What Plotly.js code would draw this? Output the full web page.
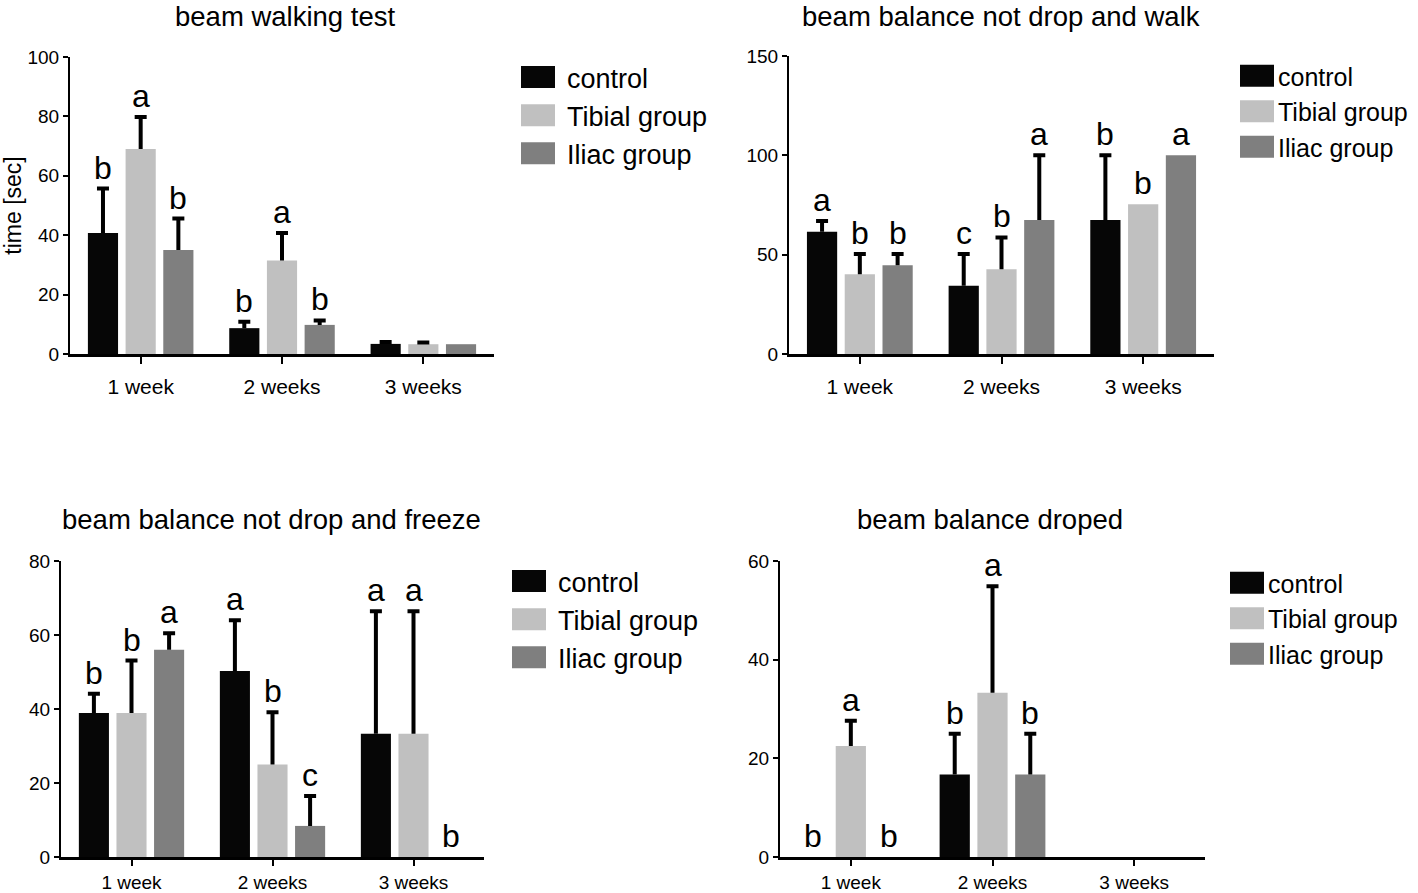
<!DOCTYPE html>
<html>
<head>
<meta charset="utf-8">
<script src="https://cdn.plot.ly/plotly-3.0.1.min.js"></script>
<style>
  html, body { margin: 0; padding: 0; background: #ffffff; }
  #chart { width: 1418px; height: 893px; }
</style>
</head>
<body>
<div id="chart"></div>
<script>
// ---------------- data ----------------
const categories = ['1 week', '2 weeks', '3 weeks'];
const seriesNames = ['control', 'Tibial group', 'Iliac group'];

// Panel 1: beam walking test
const walkControl = [40.7, 8.7, 3.4];
const walkControlErr = [15.0, 2.2, 0.6];
const walkTibial = [69.0, 31.5, 3.3];
const walkTibialErr = [10.8, 9.2, 0.6];
const walkIliac = [35.0, 9.8, 3.3];
const walkIliacErr = [10.6, 1.5, null];
const walkLetters = [['b', 'b', null], ['a', 'a', null], ['b', 'b', null]];

// Panel 2: beam balance not drop and walk
const walkBalControl = [61.5, 34.3, 67.4];
const walkBalControlErr = [5.5, 16.0, 32.6];
const walkBalTibial = [40.2, 42.6, 75.4];
const walkBalTibialErr = [10.1, 16.1, null];
const walkBalIliac = [44.7, 67.4, 100.0];
const walkBalIliacErr = [5.6, 32.6, null];
const walkBalLetters = [['a', 'c', 'b'], ['b', 'b', 'b'], ['b', 'a', 'a']];

// Panel 3: beam balance not drop and freeze
const freezeControl = [38.9, 50.3, 33.3];
const freezeControlErr = [5.2, 13.7, 33.1];
const freezeTibial = [38.9, 25.0, 33.3];
const freezeTibialErr = [14.2, 14.1, 33.1];
const freezeIliac = [56.0, 8.4, 0];
const freezeIliacErr = [4.5, 8.1, null];
const freezeLetters = [['b', 'a', 'a'], ['b', 'b', 'a'], ['a', 'c', 'b']];

// Panel 4: beam balance droped
const dropControl = [0, 16.7, 0];
const dropControlErr = [null, 8.3, null];
const dropTibial = [22.5, 33.3, 0];
const dropTibialErr = [5.1, 21.6, null];
const dropIliac = [0, 16.7, 0];
const dropIliacErr = [null, 8.3, null];
const dropLetters = [['b', 'b', null], ['a', 'a', null], ['b', 'b', null]];

const panelTitles = ['beam walking test', 'beam balance not drop and walk',
                     'beam balance not drop and freeze', 'beam balance droped'];
const yTickVals = [[0, 20, 40, 60, 80, 100], [0, 50, 100, 150], [0, 20, 40, 60, 80], [0, 20, 40, 60]];
const yAxisTitle = 'time [sec]';

// ---------------- styles / layout ----------------
const W = 1418, H = 893;
const FONT = 'Arial, "Liberation Sans", sans-serif';
const colors = ['#060606', '#c0c0c0', '#7f7f7f'];
const BARGAP = 0.2, BARGROUPGAP = 0.2;

// title: [center x, top y] in pixels
const panels = [
  { vals: [walkControl, walkTibial, walkIliac], errs: [walkControlErr, walkTibialErr, walkIliacErr],
    letters: walkLetters, xpx: [70, 494], ypx: [57, 354], title: [285, 0],
    standoff: 5, tickSize: 21, ticklen: 7,
    legend: { left: 509, top: 53, size: 27, itemwidth: 48 } },
  { vals: [walkBalControl, walkBalTibial, walkBalIliac], errs: [walkBalControlErr, walkBalTibialErr, walkBalIliacErr],
    letters: walkBalLetters, xpx: [789, 1214], ypx: [56, 354], title: [1001, 0],
    standoff: 5, tickSize: 21, ticklen: 7,
    legend: { left: 1236, top: 53, size: 25, itemwidth: 32 } },
  { vals: [freezeControl, freezeTibial, freezeIliac], errs: [freezeControlErr, freezeTibialErr, freezeIliacErr],
    letters: freezeLetters, xpx: [61, 484], ypx: [561, 857], title: [271, 503],
    standoff: 0, tickSize: 19, ticklen: 6,
    legend: { left: 500, top: 557, size: 27, itemwidth: 48 } },
  { vals: [dropControl, dropTibial, dropIliac], errs: [dropControlErr, dropTibialErr, dropIliacErr],
    letters: dropLetters, xpx: [780, 1205], ypx: [561, 857], title: [990, 503],
    standoff: 0, tickSize: 19, ticklen: 6,
    legend: { left: 1226, top: 560, size: 25, itemwidth: 32 } }
];

const traces = [];
const annotations = [];
const layout = {
  width: W, height: H,
  margin: { l: 0, r: 0, t: 0, b: 0 },
  paper_bgcolor: '#ffffff', plot_bgcolor: '#ffffff',
  barmode: 'group', bargap: BARGAP, bargroupgap: BARGROUPGAP,
  font: { family: FONT, color: '#000000' },
  showlegend: true,
  annotations: annotations
};

panels.forEach((p, k) => {
  const sfx = k === 0 ? '' : String(k + 1);
  const xName = 'x' + sfx, yName = 'y' + sfx;
  const legName = 'legend' + sfx;
  const ymax = yTickVals[k][yTickVals[k].length - 1];

  layout['xaxis' + sfx] = {
    domain: [p.xpx[0] / W, p.xpx[1] / W], anchor: yName, type: 'category',
    range: [-0.5, 2.5], showline: true, linecolor: '#000', linewidth: 3,
    ticks: 'outside', ticklen: p.ticklen, tickwidth: 2, tickcolor: '#000',
    tickfont: { size: p.tickSize, color: '#000', family: FONT }, ticklabelstandoff: p.standoff,
    showgrid: false, zeroline: false, fixedrange: true
  };
  layout['yaxis' + sfx] = {
    domain: [1 - p.ypx[1] / H, 1 - p.ypx[0] / H], anchor: xName,
    range: [0, ymax], tickvals: yTickVals[k], showline: true, linecolor: '#000', linewidth: 2,
    ticks: 'outside', ticklen: 5, tickwidth: 2, tickcolor: '#000',
    tickfont: { size: 19, color: '#000', family: FONT },
    showgrid: false, zeroline: false, fixedrange: true
  };
  if (k === 0) {
    layout.yaxis.title = { text: yAxisTitle, font: { size: 23, family: FONT, color: '#000' }, standoff: 4 };
  }
  layout[legName] = {
    x: p.legend.left / W, y: 1 - p.legend.top / H, xanchor: 'left', yanchor: 'top',
    font: { size: p.legend.size, family: FONT, color: '#000' },
    bgcolor: 'rgba(0,0,0,0)', borderwidth: 0, itemwidth: p.legend.itemwidth,
    traceorder: 'normal', tracegroupgap: 0
  };

  const axisLen = p.xpx[1] - p.xpx[0];
  const slot = (axisLen / categories.length) * (1 - BARGAP) / seriesNames.length;

  seriesNames.forEach((name, s) => {
    const err = p.errs[s];
    traces.push({
      type: 'bar', name: name, x: categories, y: p.vals[s],
      xaxis: xName, yaxis: yName, legend: legName, showlegend: true,
      marker: { color: colors[s], line: { width: 0 } },
      error_y: { type: 'data', symmetric: false,
                 array: err.map(e => (e === null ? NaN : e)),
                 arrayminus: err.map(e => (e === null ? NaN : 0)),
                 color: '#000', thickness: 4, width: 6, visible: true },
      hoverinfo: 'skip'
    });
    categories.forEach((c, i) => {
      const letter = p.letters[s][i];
      if (!letter) return;
      annotations.push({
        xref: xName, yref: yName, x: c, y: p.vals[s][i] + (err[i] || 0),
        xshift: (s - 1) * slot, yshift: 1, xanchor: 'center', yanchor: 'bottom',
        text: letter, showarrow: false, font: { size: 32, family: FONT, color: '#000' }
      });
    });
  });

  annotations.push({
    xref: 'paper', yref: 'paper', x: p.title[0] / W, y: 1 - p.title[1] / H,
    xanchor: 'center', yanchor: 'top', borderpad: 0, showarrow: false,
    text: panelTitles[k], font: { size: 27.5, family: FONT, color: '#000' }
  });
});

// cosmetic touch-ups: larger legend swatches, error bars without the lower cap
function polish(gd) {
  gd.querySelectorAll('g.legendpoints path').forEach(pth => {
    pth.setAttribute('d', 'M17,11H-17V-11H17Z');
  });
  gd.querySelectorAll('g.errorbar path.yerror').forEach(pth => {
    const d = pth.getAttribute('d') || '';
    pth.setAttribute('d', d.replace(/m-[\d.eE+-]+,0h[\d.eE+-]+$/, ''));
  });
}

Plotly.newPlot('chart', traces, layout, { displayModeBar: false, staticPlot: true }).then(gd => {
  polish(gd);
  gd.on('plotly_afterplot', () => polish(gd));
});
</script>
</body>
</html>
